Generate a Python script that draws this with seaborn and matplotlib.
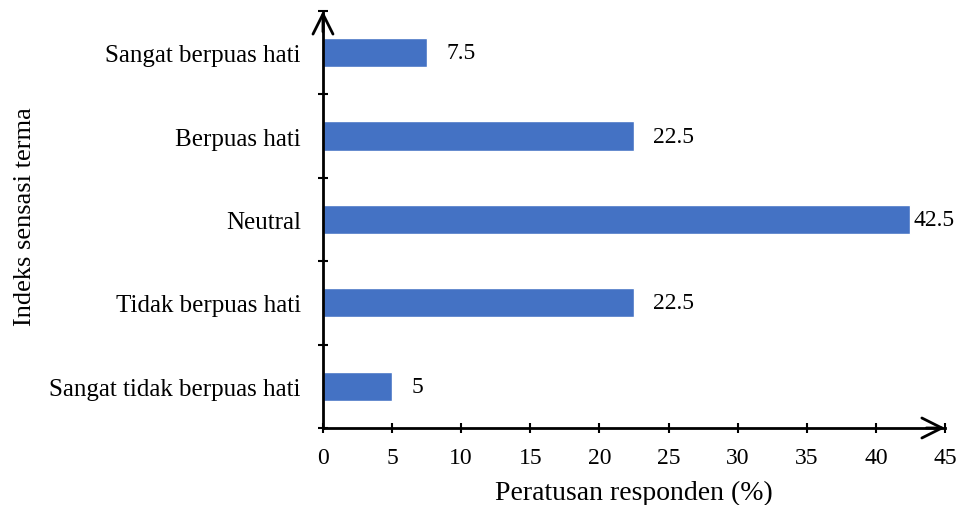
import matplotlib
matplotlib.use("Agg")
import matplotlib.pyplot as plt
import seaborn as sns
import pandas as pd
import numpy as np

categories = ["Sangat berpuas hati", "Berpuas hati", "Neutral",
              "Tidak berpuas hati", "Sangat tidak berpuas hati"]
percentages = [7.5, 22.5, 42.5, 22.5, 5]
x_ticks = [0, 5, 10, 15, 20, 25, 30, 35, 40, 45]

sns.set_theme(style="white")
plt.rcParams["font.family"] = ["Liberation Serif", "DejaVu Serif"]

CAT_SIZE = 18
NUM_SIZE = 17

df = pd.DataFrame({"kategori": categories, "peratus": percentages})

fig = plt.figure(figsize=(9.74, 5.06), dpi=100)
ax = fig.add_axes([0.3316, 0.1522, 0.9702 - 0.3316, 0.9763 - 0.1522])

sns.barplot(data=df, y="kategori", x="peratus", orient="h",
            color="#4472C4", saturation=1, width=0.35, ax=ax)

ax.set_xlim(0, 45)
ax.set_ylim(4.5, -0.5)
ax.set_xticks(x_ticks)
ax.set_xticklabels([str(t) for t in x_ticks])

# category labels without ticks; boundary ticks between categories
ax.set_yticks(np.arange(-0.5, 5.0, 1.0), minor=True)
ax.tick_params(axis="y", which="major", left=True, length=0, pad=16,
               labelsize=CAT_SIZE, labelcolor="black")
ax.tick_params(axis="y", which="minor", left=True, direction="inout",
               length=7.5, width=1.5, color="black")
ax.tick_params(axis="x", which="major", bottom=True, direction="inout",
               length=7.5, width=1.5, color="black", pad=10,
               labelsize=NUM_SIZE, labelcolor="black")

for side in ("top", "right"):
    ax.spines[side].set_visible(False)
for side in ("left", "bottom"):
    ax.spines[side].set_color("black")
    ax.spines[side].set_linewidth(2)

# value labels beside each bar
offsets = [14, 14, 2, 14, 14]
for i, (v, off) in enumerate(zip(percentages, offsets)):
    ax.annotate(f"{v:g}", xy=(v, i), xytext=(off, 0), textcoords="offset points",
                va="center", ha="left", fontsize=NUM_SIZE, color="black")

# open arrow heads at the ends of both axes
arrow_kw = dict(arrowstyle="->", lw=2, color="black",
                mutation_scale=36, shrinkA=0, shrinkB=0)
ax.annotate("", xy=(1, 0), xytext=(0.97, 0), xycoords="axes fraction",
            arrowprops=arrow_kw, annotation_clip=False)
ax.annotate("", xy=(0, 1), xytext=(0, 0.95), xycoords="axes fraction",
            arrowprops=arrow_kw, annotation_clip=False)

ax.set_xlabel("Peratusan responden (%)", fontsize=20, color="black")
ax.xaxis.set_label_coords(0.5, -0.125)
ax.set_ylabel("Indeks sensasi terma", fontsize=19, color="black")
ax.yaxis.set_label_coords(-0.461, 0.51)

fig.savefig("out.png", dpi=100)
